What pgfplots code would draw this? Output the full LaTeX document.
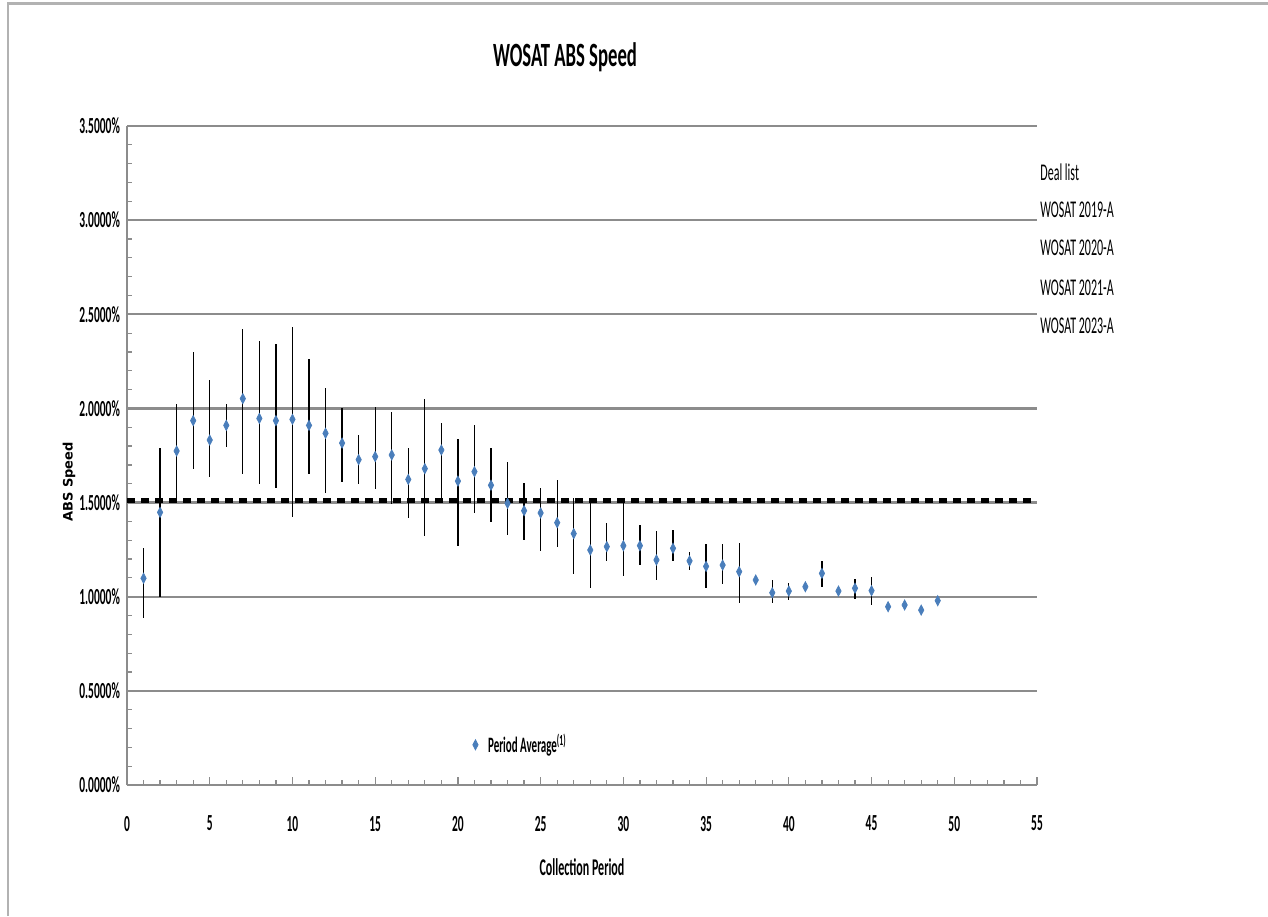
\documentclass[border=0pt]{standalone}
\usepackage{pgfplots}
\pgfplotsset{compat=1.18}
\usepackage{fontspec}
\setmainfont{Carlito}[FakeStretch=0.5]
\newfontfamily\titlefont{Carlito}[FakeStretch=0.55]
\newfontfamily\verd{DejaVu Sans}

\definecolor{gridgray}{RGB}{140,140,140}
\definecolor{ptblue}{RGB}{74,126,187}

\begin{document}
\begin{tikzpicture}
\path[use as bounding box] (0,0) rectangle (634pt,458pt);
\draw[gray!60, line width=1.2pt] (4pt,0) -- (4pt,456.3pt) -- (634pt,456.3pt);

\begin{axis}[
    at={(63.5pt,65.5pt)}, anchor=south west,
    scale only axis, width=455pt, height=329.5pt,
    xmin=0, xmax=55, ymin=0, ymax=3.5,
    xtick={0,5,...,55},
    ytick={0,0.5,1,1.5,2,2.5,3,3.5},
    minor x tick num=4, minor y tick num=4,
    axis lines*=left,
    axis line style={draw=gridgray, line width=1.2pt},
    ymajorgrids,
    major grid style={draw=gridgray, line width=1.2pt},
    tick align=inside,
    tick style={draw=gridgray, line width=0.6pt},
    major tick length=4pt, minor tick length=2.5pt,
    /pgf/number format/assume math mode=true,
    ticklabel style={font=\fontsize{11.5}{11.5}\selectfont\bfseries},
    yticklabel={\pgfmathprintnumber[fixed,fixed zerofill,precision=4]{\tick}\%},
    xticklabel style={yshift=-12pt},
    legend style={at={(0.373,0.061)}, anchor=west, draw=none, fill=none,
        font=\fontsize{11}{11}\selectfont\bfseries,
        /tikz/every odd column/.append style={column sep=3pt}},
    legend cell align=left,
    clip=false,
]

\addplot[only marks, mark=diamond*, mark size=2.5pt,
    mark options={fill=ptblue, draw=ptblue, xscale=0.7},
    error bars/.cd, y dir=both, y explicit,
    error bar style={black, line width=0.65pt}, error mark=none]
    table[x=x, y=y, y error plus=ep, y error minus=em] {
x  y      ep     em
1  1.098  0.162  0.213
2  1.448  0.340  0.448
3  1.774  0.248  0.260
4  1.935  0.363  0.255
5  1.832  0.319  0.195
6  1.910  0.112  0.113
7  2.052  0.370  0.400
8  1.947  0.411  0.349
9  1.935  0.407  0.356
10 1.942  0.488  0.517
11 1.910  0.352  0.260
12 1.868  0.240  0.319
13 1.816  0.184  0.209
14 1.728  0.132  0.128
15 1.744  0.262  0.172
16 1.753  0.226  0.261
17 1.623  0.165  0.205
18 1.680  0.370  0.358
19 1.779  0.145  0.265
20 1.614  0.223  0.343
21 1.664  0.248  0.218
22 1.592  0.196  0.197
23 1.496  0.218  0.167
24 1.457  0.148  0.157
25 1.445  0.131  0.204
26 1.393  0.227  0.127
27 1.335  0.188  0.216
28 1.248  0.257  0.203
29 1.266  0.127  0.076
30 1.271  0.234  0.161
31 1.271  0.108  0.103
32 1.195  0.154  0.106
33 1.257  0.099  0.067
34 1.190  0.049  0.048
35 1.161  0.117  0.116
36 1.168  0.110  0.101
37 1.133  0.154  0.164
38 1.089  0.020  0.020
39 1.021  0.068  0.056
40 1.030  0.044  0.045
41 1.053  0.015  0.015
42 1.124  0.067  0.071
43 1.030  0.000  0.000
44 1.045  0.049  0.059
45 1.032  0.071  0.074
46 0.947  0.000  0.000
47 0.956  0.000  0.000
48 0.929  0.000  0.000
49 0.979  0.000  0.000
};
\addlegendentry{Period Average\textsuperscript{(1)}}

\addplot[black, line width=2.5pt, dash pattern=on 4pt off 3pt, forget plot]
    coordinates {(0,1.51) (55,1.51)};

\end{axis}

\node[font=\titlefont\fontsize{17}{17}\selectfont\bfseries] at (282.5pt,429.5pt) {WOSAT ABS Speed};
\node[font=\fontsize{12}{12}\selectfont\bfseries] at (291pt,24.5pt) {Collection Period};
\node[font=\verd\fontsize{6.5}{6.5}\selectfont\bfseries, rotate=90] at (34.5pt,217pt) {ABS Speed};
\begin{scope}[every node/.style={anchor=west, inner sep=0pt, font=\fontsize{12}{12}\selectfont}]
\node at (520pt,372pt) {Deal list};
\node at (520pt,353pt) {WOSAT 2019-A};
\node at (520pt,334pt) {WOSAT 2020-A};
\node at (520pt,314pt) {WOSAT 2021-A};
\node at (520pt,295pt) {WOSAT 2023-A};
\end{scope}
\end{tikzpicture}
\end{document}
